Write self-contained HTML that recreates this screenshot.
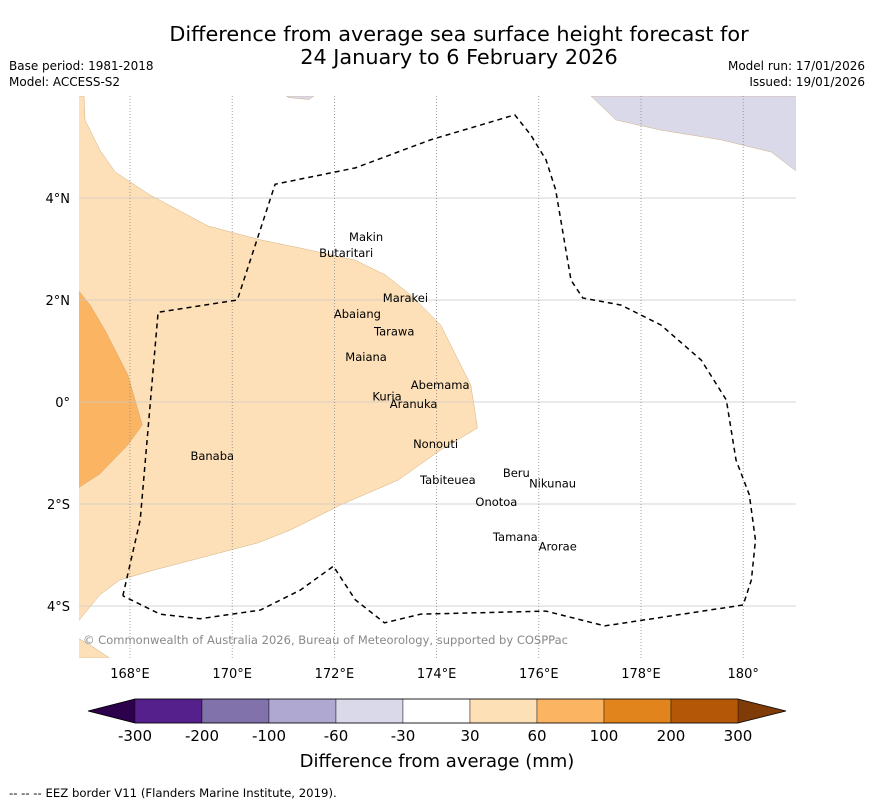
<!DOCTYPE html>
<html><head><meta charset="utf-8">
<style>
body{margin:0;background:#fff;font-family:"Liberation Sans",sans-serif;}
svg text{font-family:"DejaVu Sans","Liberation Sans",sans-serif;}
</style></head>
<body>
<svg id="chart" width="873" height="804" viewBox="0 0 873 804" xmlns="http://www.w3.org/2000/svg">
<text x="459" y="41" font-size="20.8" text-anchor="middle">Difference from average sea surface height forecast for</text>
<text x="459" y="64" font-size="20.8" text-anchor="middle">24 January to 6 February 2026</text>
<text x="9" y="70" font-size="12">Base period: 1981-2018</text>
<text x="9" y="86" font-size="12">Model: ACCESS-S2</text>
<text x="865" y="70" font-size="12" text-anchor="end">Model run: 17/01/2026</text>
<text x="865" y="86" font-size="12" text-anchor="end">Issued: 19/01/2026</text>
<g id="map"></g>
<g id="cbar"></g>
<text x="437" y="767" font-size="18" text-anchor="middle">Difference from average (mm)</text>
<text x="9" y="797" font-size="11.7">--  --  -- EEZ border V11 (Flanders Marine Institute, 2019).</text>
</svg>
<script>
const lonTicks=[168,170,172,174,176,178,180];
const lonTickLabels=["168°E","170°E","172°E","174°E","176°E","178°E","180°"];
const latTicks=[4,2,0,-2,-4];
const latTickLabels=["4°N","2°N","0°","2°S","4°S"];
const lightOrange=[[166.98,6.0],[167.10,6.0],[167.12,5.53],[167.41,4.94],[167.71,4.51],[168.39,4.06],[169.53,3.45],[170.55,3.18],[171.33,3.02],[172.41,2.78],[173.0,2.49],[173.49,2.10],[174.08,1.51],[174.57,0.53],[174.67,0.33],[174.80,-0.51],[174.08,-0.94],[173.25,-1.53],[172.12,-2.02],[171.14,-2.51],[170.51,-2.76],[169.37,-3.06],[168.49,-3.29],[167.80,-3.49],[167.41,-3.78],[166.98,-4.31]];
const darkOrange=[[166.98,2.20],[167.22,1.90],[167.51,1.41],[167.96,0.53],[168.24,-0.45],[167.96,-0.84],[167.41,-1.41],[166.98,-1.69]];
const lightOrange2=[[166.98,-4.63],[167.2,-4.75],[167.6,-5.02],[166.98,-5.02]];
const lavender=[[177.02,6],[177.51,5.53],[178.39,5.33],[179.57,5.14],[180.55,4.9],[181.06,4.51],[181.06,6]];
const lavender2=[[171.06,6],[171.6,6],[171.5,5.93],[171.1,5.97]];
const eez=[[167.86,-3.80],[168.20,-2.31],[168.55,1.76],[170.10,2.0],[170.84,4.27],[172.41,4.59],[173.88,5.14],[175.53,5.63],[175.84,5.24],[176.14,4.75],[176.33,4.16],[176.63,2.39],[176.86,2.04],[177.61,1.90],[178.39,1.51],[179.18,0.82],[179.67,0.04],[179.86,-1.14],[180.12,-1.82],[180.24,-2.71],[180.16,-3.49],[180.0,-3.98],[177.29,-4.39],[176.14,-4.10],[173.69,-4.16],[172.98,-4.33],[172.41,-3.88],[171.98,-3.22],[171.33,-3.69],[170.55,-4.08],[169.37,-4.25],[168.59,-4.16],[167.86,-3.80]];
const islandNames=["Makin","Butaritari","Marakei","Abaiang","Tarawa","Maiana","Abemama","Kuria","Aranuka","Banaba","Nonouti","Beru","Nikunau","Tabiteuea","Onotoa","Tamana","Arorae"];
const islandLon=[172.62,172.23,173.39,172.45,173.17,172.62,174.07,173.03,173.55,169.61,173.98,175.56,176.27,174.22,175.17,175.54,176.37];
const islandLat=[3.24,2.92,2.04,1.73,1.38,0.88,0.33,0.11,-0.04,-1.06,-0.82,-1.39,-1.6,-1.53,-1.96,-2.65,-2.83];
const cbarBounds=["-300","-200","-100","-60","-30","30","60","100","200","300"];
const cbarColors=["#55208b","#8172ab","#afa8d1","#d9d9ea","#ffffff","#fee0b6","#fbb462","#e2841c","#b45807"];
const cbarMin="#2d004b", cbarMax="#7f3b08";

const NS="http://www.w3.org/2000/svg";
const L=79,R=796,T=96,B=658;
const xs=lon=>130+(lon-168)*51.1;
const ys=lat=>402-lat*51;
const map=document.getElementById('map');
function mk(tag,attrs,parent){const e=document.createElementNS(NS,tag);for(const k in attrs)e.setAttribute(k,attrs[k]);(parent||map).appendChild(e);return e;}
const defs=mk('defs',{});const cp=mk('clipPath',{id:'clip'},defs);mk('rect',{x:L,y:T,width:R-L,height:B-T},cp);
const g=mk('g',{'clip-path':'url(#clip)'});
function poly(pts,fill,name){const p=mk('polygon',{points:pts.map(q=>xs(q[0])+','+ys(q[1])).join(' '),fill:fill,stroke:'#c9a06a','stroke-width':0.4},g);

}
poly(lightOrange,'#fde0b8','anomaly-30-60-region');
poly(darkOrange,'#fbb462','anomaly-60-100-region');
poly(lightOrange2,'#fde0b8','anomaly-30-60-region-south');
poly(lavender,'#d9d9ea','anomaly-minus60-minus30-region');
poly(lavender2,'#d9d9ea','anomaly-minus60-minus30-region-small');
latTicks.forEach((lat,i)=>{const l=mk('line',{x1:L,x2:R,y1:ys(lat),y2:ys(lat),stroke:'#c8c8c8','stroke-width':0.8},g);


const t=mk('text',{x:70,y:ys(lat)+5,'font-size':13,'text-anchor':'end'});t.textContent=latTickLabels[i];

});
lonTicks.forEach((lon,i)=>{const l=mk('line',{x1:xs(lon),x2:xs(lon),y1:T,y2:B,stroke:'#888','stroke-width':0.8,'stroke-dasharray':'1,2'},g);


const t=mk('text',{x:xs(lon),y:678,'font-size':13,'text-anchor':'middle'});t.textContent=lonTickLabels[i];

});
const e=mk('polyline',{points:eez.map(q=>xs(q[0])+','+ys(q[1])).join(' '),fill:'none',stroke:'#000','stroke-width':1.5,'stroke-dasharray':'5,4'},g);


islandNames.forEach((n,i)=>{const t=mk('text',{x:xs(islandLon[i]),y:ys(islandLat[i])+4,'font-size':11.5,'text-anchor':'middle'},g);t.textContent=n;

});
const c=mk('text',{x:83,y:644,'font-size':11.5,fill:'#888'},g);c.textContent="© Commonwealth of Australia 2026, Bureau of Meteorology, supported by COSPPac";
c.setAttribute('textLength','485');



const cb=document.getElementById('cbar');
const cx0=135,cx1=738,cy=699,ch=24,n=cbarColors.length,w=(cx1-cx0)/n;
const lt=mk('polygon',{points:`${cx0},${cy} ${88},${cy+ch/2} ${cx0},${cy+ch}`,fill:cbarMin},cb);


const rt=mk('polygon',{points:`${cx1},${cy} ${786},${cy+ch/2} ${cx1},${cy+ch}`,fill:cbarMax},cb);


cbarColors.forEach((col,i)=>{const r=mk('rect',{x:cx0+i*w,y:cy,width:w,height:ch,fill:col,stroke:'#000','stroke-width':0.4},cb);

});
mk('polygon',{points:`${cx0},${cy} ${88},${cy+ch/2} ${cx0},${cy+ch} ${cx1},${cy+ch} ${786},${cy+ch/2} ${cx1},${cy}`,fill:'none',stroke:'#000','stroke-width':0.8},cb);
cbarBounds.forEach((b,i)=>{const t=mk('text',{x:cx0+i*w,y:741,'font-size':15,'text-anchor':'middle'},cb);t.textContent=b;

});
</script>
</body></html>
